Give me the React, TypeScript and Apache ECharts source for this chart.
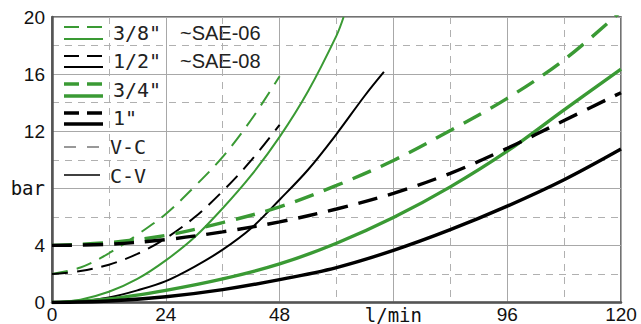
import React, { useEffect, useRef } from "react";
import * as echarts from "echarts";

const GREEN = "#3a9a34";
const BLACK = "#000000";

// x axis tick labels (every 24 l/min) and y axis tick labels (every 4 bar)
const xTickValues = [0, 24, 48, 72, 96, 120];
const xTickLabels = ["0", "24", "48", "l/min", "96", "120"];
const yTickValues = [0, 4, 8, 12, 16, 20];
const yTickLabels = ["0", "4", "bar", "12", "16", "20"];

// 3/4" and 1" (full range)
const flowWide = [0, 12, 24, 36, 48, 60, 72, 84, 96, 108, 120];
const p34VC = [4.0, 4.2, 4.7, 5.6, 6.7, 8.2, 9.95, 12.05, 14.3, 17.0, 20.4];
const p34CV = [0, 0.25, 0.85, 1.65, 2.7, 4.15, 5.95, 8.1, 10.6, 13.5, 16.35];
const p1VC = [4.0, 4.08, 4.4, 4.95, 5.65, 6.55, 7.65, 9.05, 10.8, 12.75, 14.7];
const p1CV = [0, 0.1, 0.4, 0.9, 1.6, 2.45, 3.65, 5.1, 6.75, 8.6, 10.75];

// 3/8" (~SAE-06)
const flow38VC = [0, 6, 12, 18, 24, 30, 36, 42, 48];
const p38VC = [2.0, 2.45, 3.45, 4.75, 6.2, 8.1, 10.2, 12.8, 15.85];
const flow38CV = [0, 6, 12, 18, 24, 30, 36, 42, 48, 54, 60, 61.5];
const p38CV = [0, 0.2, 0.75, 1.65, 2.95, 4.55, 6.6, 8.9, 11.6, 14.8, 18.7, 20];

// 1/2" (~SAE-08)
const flow12VC = [0, 6, 12, 18, 24, 30, 36, 42, 48];
const p12VC = [2.0, 2.2, 2.65, 3.4, 4.5, 5.95, 7.8, 9.95, 12.45];
const flow12CV = [0, 6, 12, 18, 24, 30, 36, 42, 48, 54, 60, 66, 70];
const p12CV = [0, 0.08, 0.35, 0.85, 1.5, 2.5, 3.7, 5.2, 7.2, 9.3, 11.8, 14.5, 16.15];

const zip = (xs: number[], ys: number[]) => xs.map((x, i) => [x, ys[i]]);

const THIN = 2;
const THICK = 3.4;
const THIN_DASH = [16, 9];
const THICK_DASH = [20, 11];

const MONO = "'DejaVu Sans Mono', monospace";
const SANS = "'Liberation Sans', Arial, sans-serif";

function mkSeries(name: string, xs: number[], ys: number[], color: string, width: number, dashed: boolean) {
  return {
    name,
    type: "line",
    data: zip(xs, ys),
    symbol: "none",
    smooth: 0.35,
    clip: true,
    lineStyle: {
      color,
      width,
      type: dashed ? (width > 2.5 ? THICK_DASH : THIN_DASH) : "solid",
    },
  };
}

const legendRows = [
  { label: '3/8"', note: "~SAE-06", color: GREEN, width: THIN, yd: 27, ys: 39, yt: 33 },
  { label: '1/2"', note: "~SAE-08", color: BLACK, width: THIN, yd: 56, ys: 67, yt: 61 },
  { label: '3/4"', note: "", color: GREEN, width: THICK, yd: 84, ys: 96, yt: 90 },
  { label: '1"', note: "", color: BLACK, width: THICK, yd: 113, ys: 124, yt: 118 },
];

function buildLegend() {
  const els: any[] = [];
  const x1 = 64;
  const x2 = 103;
  legendRows.forEach((r) => {
    els.push({
      type: "line",
      shape: { x1, y1: r.yd, x2, y2: r.yd },
      style: { stroke: r.color, lineWidth: r.width, lineDash: [15, 8] },
    });
    els.push({
      type: "line",
      shape: { x1, y1: r.ys, x2, y2: r.ys },
      style: { stroke: r.color, lineWidth: r.width },
    });
    els.push({
      type: "text",
      x: 113,
      y: r.yt,
      style: { text: r.label, fontSize: 20, fontFamily: MONO, fill: "#222", verticalAlign: "middle" },
    });
    if (r.note) {
      els.push({
        type: "text",
        x: 180,
        y: r.yt,
        style: { text: r.note, fontSize: 20, fontFamily: SANS, fill: "#222", verticalAlign: "middle" },
      });
    }
  });
  els.push({
    type: "line",
    shape: { x1, y1: 147, x2: 100, y2: 147 },
    style: { stroke: "#777", lineWidth: 1.4, lineDash: [12, 11] },
  });
  els.push({
    type: "text",
    x: 110,
    y: 147,
    style: { text: "V-C", fontSize: 20, fontFamily: MONO, fill: "#222", verticalAlign: "middle" },
  });
  els.push({
    type: "line",
    shape: { x1, y1: 175, x2: 100, y2: 175 },
    style: { stroke: "#000", lineWidth: 1.4 },
  });
  els.push({
    type: "text",
    x: 110,
    y: 176,
    style: { text: "C-V", fontSize: 20, fontFamily: MONO, fill: "#222", verticalAlign: "middle" },
  });
  return els;
}

export default function App() {
  const ref = useRef<HTMLDivElement>(null);
  useEffect(() => {
    document.body.style.margin = "0";
    if (!ref.current) return;
    const chart = echarts.init(ref.current, null, { renderer: "svg" });
    const xLabel = (v: number) => {
      const i = xTickValues.indexOf(v);
      if (i < 0) return "";
      const t = xTickLabels[i];
      return /^\d+$/.test(t) ? t : "{m|" + t + "}";
    };
    const yLabel = (v: number) => {
      const i = yTickValues.indexOf(v);
      if (i < 0) return "";
      const t = yTickLabels[i];
      return /^\d+$/.test(t) ? t : "{m|" + t + "}";
    };
    chart.setOption({
      animation: false,
      backgroundColor: "#ffffff",
      grid: {
        left: 52,
        right: 20,
        top: 17,
        bottom: 21,
        show: true,
        borderColor: "#444",
        borderWidth: 1.5,
        containLabel: false,
      },
      xAxis: {
        type: "value",
        min: 0,
        max: 120,
        interval: 24,
        axisLine: { show: true, lineStyle: { color: "#555", width: 2.5 } },
        axisTick: { show: false },
        minorTick: { show: false, splitNumber: 2 },
        axisLabel: {
          formatter: xLabel,
          color: "#111",
          fontSize: 19,
          lineHeight: 18,
          fontFamily: SANS,
          margin: 3,
          rich: { m: { fontFamily: MONO, fontSize: 19, lineHeight: 18, color: "#111" } },
        },
        splitLine: { show: true, lineStyle: { color: "#a8a8a8", width: 1 } },
        minorSplitLine: { show: true, lineStyle: { color: "#b0b0b0", width: 1, type: [7, 6] } },
      },
      yAxis: {
        type: "value",
        min: 0,
        max: 20,
        interval: 4,
        axisLine: { show: true, lineStyle: { color: "#555", width: 2.5 } },
        axisTick: { show: false },
        minorTick: { show: false, splitNumber: 2 },
        axisLabel: {
          formatter: yLabel,
          color: "#111",
          fontSize: 19,
          fontFamily: SANS,
          margin: 7,
          rich: { m: { fontFamily: MONO, fontSize: 19, color: "#111" } },
        },
        splitLine: { show: true, lineStyle: { color: "#a8a8a8", width: 1 } },
        minorSplitLine: { show: true, lineStyle: { color: "#b0b0b0", width: 1, type: [7, 6] } },
      },
      series: [
        mkSeries('3/8" V-C', flow38VC, p38VC, GREEN, THIN, true),
        mkSeries('3/8" C-V', flow38CV, p38CV, GREEN, THIN, false),
        mkSeries('1/2" V-C', flow12VC, p12VC, BLACK, THIN, true),
        mkSeries('1/2" C-V', flow12CV, p12CV, BLACK, THIN, false),
        mkSeries('3/4" V-C', flowWide, p34VC, GREEN, THICK, true),
        mkSeries('3/4" C-V', flowWide, p34CV, GREEN, THICK, false),
        mkSeries('1" V-C', flowWide, p1VC, BLACK, THICK, true),
        mkSeries('1" C-V', flowWide, p1CV, BLACK, THICK, false),
      ],
      graphic: buildLegend(),
    });
    return () => chart.dispose();
  }, []);
  return <div ref={ref} style={{ width: 641, height: 324 }} />;
}
